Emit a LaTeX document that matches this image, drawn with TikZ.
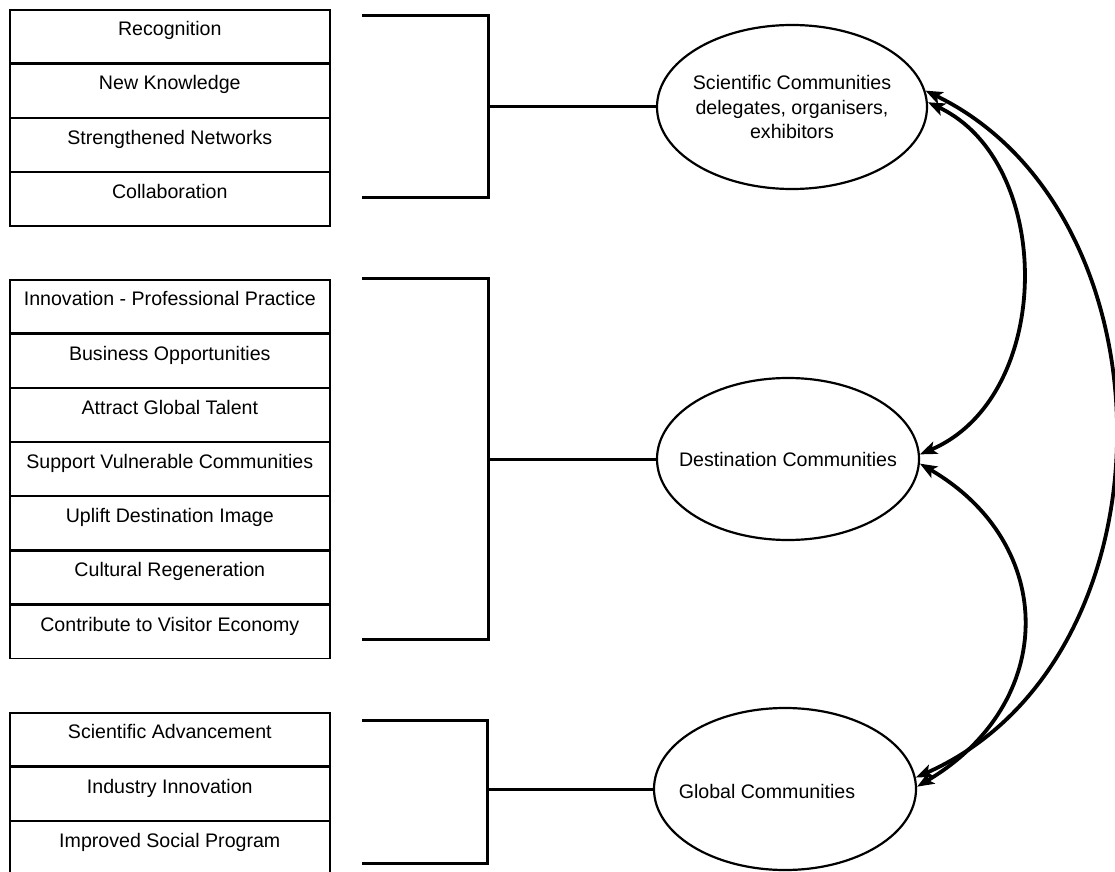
\documentclass[tikz,border=0pt]{standalone}
\usepackage{fontspec}
\setmainfont{Liberation Sans}
\usetikzlibrary{shapes.geometric,arrows.meta}

\begin{document}
\begin{tikzpicture}[x=0.5pt, y=-0.5pt, font=\fontsize{9.8}{12.25}\selectfont,
  cell/.style={draw, line width=0.8pt, anchor=north west, minimum width=160pt, minimum height=26.7pt, inner xsep=2pt, inner ysep=0pt, text height=13pt, text depth=13.7pt},
  comm/.style={draw, ellipse, line width=1.1pt, inner sep=0pt, minimum width=131pt, minimum height=81pt},
  brace/.style={line width=1.5pt},
  link/.style={line width=1.9pt, {Stealth[length=8.5pt,width=6.5pt,inset=2pt]}-{Stealth[length=8.5pt,width=6.5pt,inset=2pt]}}]
\useasboundingbox (0,0) rectangle (1115,872);
\clip (0,0) rectangle (1115,872);

\node[cell] (recog) at (9,9) {Recognition};
\node[cell] (know) at (9,63.2) {New Knowledge};
\node[cell] (netw) at (9,117.4) {Strengthened Networks};
\node[cell] (collab) at (9,171.6) {Collaboration};

\node[cell] (innov) at (9,279) {Innovation - Professional Practice};
\node[cell] (busi) at (9,333.2) {Business Opportunities};
\node[cell] (talent) at (9,387.4) {Attract Global Talent};
\node[cell] (vuln) at (9,441.6) {Support Vulnerable Communities};
\node[cell] (image) at (9,495.8) {Uplift Destination Image};
\node[cell] (cult) at (9,550) {Cultural Regeneration};
\node[cell] (visit) at (9,604.2) {Contribute to Visitor Economy};

\node[cell] (sciadv) at (9,712) {Scientific Advancement};
\node[cell] (indus) at (9,766.2) {Industry Innovation};
\node[cell] (social) at (9,820.4) {Improved Social Program};

\node[comm, minimum width=135pt, minimum height=82pt, label={[align=center]center:{Scientific Communities\\delegates, organisers,\\exhibitors}}] (sci) at (792,107) {};
\node[comm, label={center:Destination Communities}] (dest) at (788,459) {};
\node[comm, label={[xshift=-9pt, yshift=-1pt]center:Global Communities}] (glob) at (785,789) {};

\coordinate (t1) at (362,16);
\coordinate (b1) at (362,198);
\coordinate (k1) at (488,107);
\coordinate (t2) at (362,278);
\coordinate (b2) at (362,639);
\coordinate (k2) at (488,459);
\coordinate (t3) at (362,720);
\coordinate (b3) at (362,863);
\coordinate (k3) at (487,789);

\draw[brace] (t1) -| (k1) |- (b1);
\draw[brace] (k1) -- (sci.west);
\draw[brace] (t2) -| (k2) |- (b2);
\draw[brace] (k2) -- (dest.west);
\draw[brace] (t3) -| (k3) |- (b3);
\draw[brace] (k3) -- (glob.west);

\draw[link] (sci.2) .. controls (1055,162) and (1055,397) .. (dest.2);
\draw[link] (dest.-2) .. controls (1058,544) and (1058,703) .. (glob.1);
\draw[link] (sci.7) .. controls (1179,214) and (1179,661) .. (glob.5);
\end{tikzpicture}
\end{document}
